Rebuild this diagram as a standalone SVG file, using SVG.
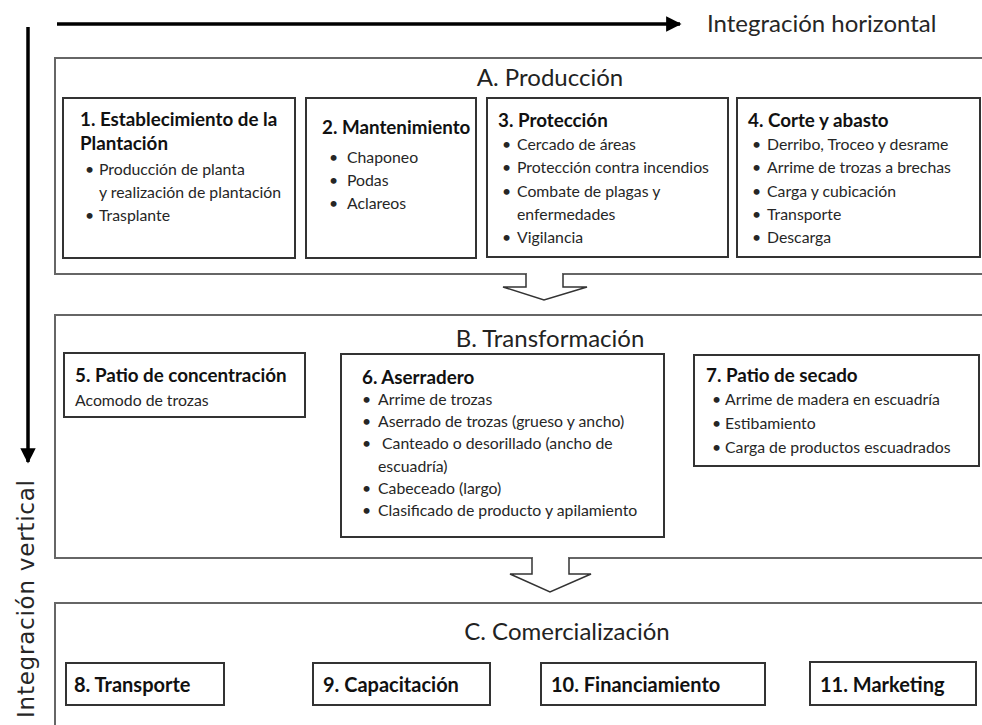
<svg xmlns="http://www.w3.org/2000/svg" width="982" height="725" viewBox="0 0 982 725">
<defs>
<marker id="ah" viewBox="0 0 10 10" refX="9" refY="5" markerWidth="5" markerHeight="4.4" orient="auto" markerUnits="strokeWidth"><path d="M0,0 L10,5 L0,10 Z" fill="#000"/></marker>
</defs>
<style>
text{font-family:Lato,"Liberation Sans",sans-serif;fill:#262626}
.outer{fill:none;stroke:#666;stroke-width:2}
.box{fill:#fff;stroke:#333;stroke-width:2}
.t{font-size:18.8px;font-weight:bold;fill:#111}
.tb{font-size:20px;font-weight:bold;fill:#111}
.b{font-size:15.8px}
.d{font-size:12px}
.h{font-size:24px;fill:#222}
.chev{fill:#fff;stroke:#333;stroke-width:1.5}
</style>
<rect width="982" height="725" fill="#fff"/>
<g id="axes">
<line x1="57" y1="24" x2="680" y2="24" stroke="#000" stroke-width="3.5" marker-end="url(#ah)"/>
<text x="707" y="32" style="font-size:24px">Integración horizontal</text>
<line x1="28" y1="27" x2="28" y2="462" stroke="#000" stroke-width="3.5" marker-end="url(#ah)"/>
<text transform="translate(34,718) rotate(-90)" textLength="238" lengthAdjust="spacing" style="font-family:'DejaVu Sans',sans-serif;font-size:23px">Integración vertical</text>
</g>
<g id="A">
<rect class="outer" x="55" y="58" width="960" height="216"/>
<text class="h" x="550" y="86" text-anchor="middle">A. Producción</text>
</g>
<g id="B">
<rect class="outer" x="55" y="315" width="960" height="243"/>
<text class="h" x="550" y="347" text-anchor="middle">B. Transformación</text>
</g>
<g id="C">
<rect class="outer" x="55" y="603" width="960" height="140"/>
<text class="h" x="567" y="640" text-anchor="middle">C. Comercialización</text>
</g>
<g id="connectors">
<path class="chev" d="M526,274 V287 H503 L544,300 L587,287 H563 V274"/>
<line x1="527" y1="274" x2="562" y2="274" stroke="#fff" stroke-width="3"/>
<path class="chev" d="M532,558 V574 H510 L550,592 L591,574 H569 V558"/>
<line x1="533" y1="558" x2="568" y2="558" stroke="#fff" stroke-width="3"/>
</g>
<g id="n1">
<rect class="box" x="63" y="98" width="232" height="160"/>
<text class="t" x="80" y="126">1. Establecimiento de la</text>
<text class="t" x="80" y="150">Plantación</text>
<text class="b" x="85" y="175">•</text><text class="b" x="99" y="175">Producción de planta</text>
<text class="b" x="99" y="198">y realización de plantación</text>
<text class="b" x="85" y="221">•</text><text class="b" x="99" y="221">Trasplante</text>
</g>
<g id="n2">
<rect class="box" x="306" y="98" width="170" height="160"/>
<text class="t" x="322" y="134">2. Mantenimiento</text>
<text class="b" x="329" y="163">•</text><text class="b" x="347" y="163">Chaponeo</text>
<text class="b" x="329" y="186">•</text><text class="b" x="347" y="186">Podas</text>
<text class="b" x="329" y="209">•</text><text class="b" x="347" y="209">Aclareos</text>
</g>
<g id="n3">
<rect class="box" x="487" y="98" width="241" height="159"/>
<text class="t" x="498" y="127">3. Protección</text>
<text class="b" x="502" y="150">•</text><text class="b" x="517" y="150">Cercado de áreas</text>
<text class="b" x="502" y="173">•</text><text class="b" x="517" y="173">Protección contra incendios</text>
<text class="b" x="502" y="197">•</text><text class="b" x="517" y="197">Combate de plagas y</text>
<text class="b" x="517" y="220">enfermedades</text>
<text class="b" x="502" y="243">•</text><text class="b" x="517" y="243">Vigilancia</text>
</g>
<g id="n4">
<rect class="box" x="737" y="98" width="243" height="159"/>
<text class="t" x="748" y="127">4. Corte y abasto</text>
<text class="b" x="752" y="150">•</text><text class="b" x="767" y="150">Derribo, Troceo y desrame</text>
<text class="b" x="752" y="173">•</text><text class="b" x="767" y="173">Arrime de trozas a brechas</text>
<text class="b" x="752" y="197">•</text><text class="b" x="767" y="197">Carga y cubicación</text>
<text class="b" x="752" y="220">•</text><text class="b" x="767" y="220">Transporte</text>
<text class="b" x="752" y="243">•</text><text class="b" x="767" y="243">Descarga</text>
</g>
<g id="n5">
<rect class="box" x="64" y="353" width="241" height="64"/>
<text class="t" x="75" y="382">5. Patio de concentración</text>
<text class="b" x="75" y="406">Acomodo de trozas</text>
</g>
<g id="n6">
<rect class="box" x="341" y="354" width="323" height="183"/>
<text class="t" x="362" y="384">6. Aserradero</text>
<text class="b" x="362" y="405">•</text><text class="b" x="378" y="405">Arrime de trozas</text>
<text class="b" x="362" y="427">•</text><text class="b" x="378" y="427">Aserrado de trozas (grueso y ancho)</text>
<text class="b" x="362" y="449">•</text><text class="b" x="382" y="449">Canteado o desorillado (ancho de</text>
<text class="b" x="378" y="472">escuadría)</text>
<text class="b" x="362" y="494">•</text><text class="b" x="378" y="494">Cabeceado (largo)</text>
<text class="b" x="362" y="516">•</text><text class="b" x="378" y="516">Clasificado de producto y apilamiento</text>
</g>
<g id="n7">
<rect class="box" x="694" y="355" width="285" height="111"/>
<text class="t" x="706" y="382">7. Patio de secado</text>
<text class="b" x="712" y="405">•</text><text class="b" x="725" y="405">Arrime de madera en escuadría</text>
<text class="b" x="712" y="429">•</text><text class="b" x="725" y="429">Estibamiento</text>
<text class="b" x="712" y="453">•</text><text class="b" x="725" y="453">Carga de productos escuadrados</text>
</g>
<g id="n8">
<rect class="box" x="66" y="663" width="158" height="42"/>
<text class="tb" x="74" y="692">8. Transporte</text>
</g>
<g id="n9">
<rect class="box" x="313" y="663" width="177" height="42"/>
<text class="tb" x="323" y="692">9. Capacitación</text>
</g>
<g id="n10">
<rect class="box" x="541" y="663" width="224" height="42"/>
<text class="tb" x="551" y="692">10. Financiamiento</text>
</g>
<g id="n11">
<rect class="box" x="810" y="662" width="166" height="43"/>
<text class="tb" x="820" y="692">11. Marketing</text>
</g>
</svg>
